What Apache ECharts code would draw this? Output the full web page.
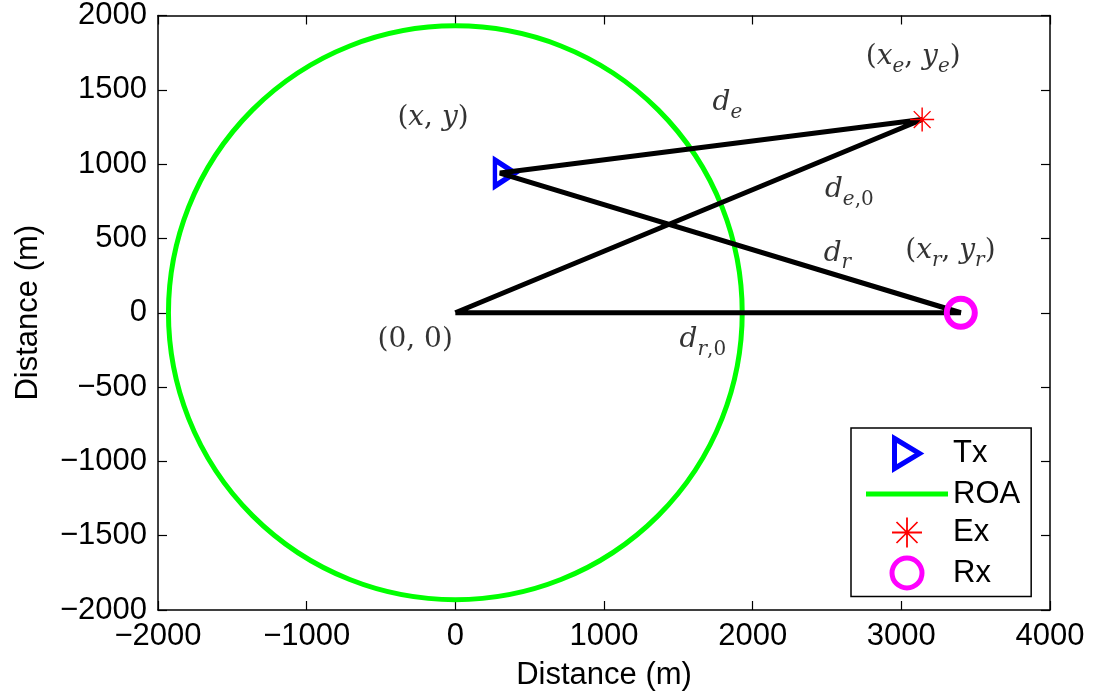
<!DOCTYPE html>
<html>
<head>
<meta charset="utf-8">
<script src="https://cdn.jsdelivr.net/npm/echarts@6/dist/echarts.min.js"></script>
<style>
  html, body { margin: 0; padding: 0; background: #fff; }
  #chart { width: 1093px; height: 700px; }
</style>
</head>
<body>
<div id="chart"></div>
<script>
// geometry (metres)
const originPoint = [0, 0];
const txPoint = [300, 940];
const exPoint = [3140, 1300];
const rxPoint = [3400, 0];
const roaRadius = 1930;
const pathOrder = [originPoint, exPoint, txPoint, rxPoint, originPoint];

// math annotations and where they sit (data coords)
const labelText = [
  '{n|(}{i|x}{n|, }{i|y}{n|)}',
  '{n|(}{i|x}{s|e}{n|, }{i|y}{s|e}{n|)}',
  '{i|d}{s|e}',
  '{i|d}{s|e}{s0|,0}',
  '{i|d}{s|r}',
  '{n|(}{i|x}{s|r}{n|, }{i|y}{s|r}{n|)}',
  '{n|(0, 0)}',
  '{i|d}{s|r}{s0|,0}'
];
const labelPos = [
  [-150, 1290], [3080, 1700], [1830, 1395], [2650, 810],
  [2570, 380], [3330, 400], [-270, -205], [1665, -205]
];

const legendNames = ['Tx', 'ROA', 'Ex', 'Rx'];

const triPath = 'path://M0,0L20,12L0,24Z';
const starPath = 'path://M47,0H53V100H47Z M0,47H100V53H0Z M17,13L87,83L83,87L13,17Z M83,13L87,17L17,87L13,83Z';

const sans = 'Liberation Sans, Arial, sans-serif';
const serif = 'DejaVu Serif, serif';
const minus = v => String(v).replace('-', '\u2212');

const myChart = echarts.init(document.getElementById('chart'));

const axisCommon = {
  type: 'value',
  axisLine: { show: true, onZero: false, lineStyle: { color: '#000', width: 1.5 } },
  axisTick: { show: true, inside: true, length: 9, lineStyle: { color: '#000', width: 1.2 } },
  splitLine: { show: false }
};

const option = {
  animation: false,
  grid: { left: 158, right: 43, top: 15, bottom: 90 },
  xAxis: [
    Object.assign({}, axisCommon, {
      min: -2000, max: 4000, interval: 1000, position: 'bottom',
      name: 'Distance (m)', nameLocation: 'middle', nameGap: 50,
      nameTextStyle: { fontFamily: sans, fontSize: 31, color: '#000' },
      axisLabel: { margin: 11, fontFamily: sans, fontSize: 31, color: '#000', formatter: minus }
    }),
    Object.assign({}, axisCommon, {
      min: -2000, max: 4000, interval: 1000, position: 'top', axisLabel: { show: false }
    })
  ],
  yAxis: [
    Object.assign({}, axisCommon, {
      min: -2000, max: 2000, interval: 500, position: 'left',
      name: 'Distance (m)', nameLocation: 'middle', nameGap: 114,
      nameTextStyle: { fontFamily: sans, fontSize: 31, color: '#000' },
      axisLabel: { margin: 11, fontFamily: sans, fontSize: 31, color: '#000', formatter: minus }
    }),
    Object.assign({}, axisCommon, {
      min: -2000, max: 2000, interval: 500, position: 'right', axisLabel: { show: false }
    })
  ],
  legend: {
    orient: 'vertical', left: 851, top: 428,
    padding: [8, 11, 6, 15], itemWidth: 82, itemHeight: 30, itemGap: 7.5,
    borderColor: '#000', borderWidth: 1.5, backgroundColor: '#fff',
    selectedMode: false,
    textStyle: { fontFamily: sans, fontSize: 31, color: '#000' },
    data: [
      { name: legendNames[0], icon: triPath,
        itemStyle: { color: '#fff', borderColor: '#0000ff', borderWidth: 5, opacity: 1 } },
      { name: legendNames[1], icon: 'path://M0,0H80V5H0Z', itemStyle: { opacity: 1 } },
      { name: legendNames[2], icon: starPath, itemStyle: { opacity: 1 } },
      { name: legendNames[3], icon: 'circle',
        itemStyle: { color: 'rgba(0,0,0,0)', borderColor: '#ff00ff', borderWidth: 5, opacity: 1 } }
    ]
  },
  series: [
    {
      name: 'ROA', type: 'custom', z: 1, silent: true,
      itemStyle: { color: '#00ff00' },
      data: [[originPoint[0], originPoint[1], roaRadius]],
      renderItem: function (params, api) {
        const c = api.coord([api.value(0), api.value(1)]);
        const s = api.size([api.value(2), api.value(2)]);
        return {
          type: 'circle',
          shape: { cx: c[0], cy: c[1], r: (s[0] + s[1]) / 2 },
          style: { fill: 'none', stroke: '#00ff00', lineWidth: 5 }
        };
      }
    },
    {
      name: 'Tx', type: 'scatter', z: 2, silent: true,
      symbol: triPath, symbolSize: [20, 26], symbolOffset: [5, 0],
      itemStyle: { color: '#fff', borderColor: '#0000ff', borderWidth: 5, opacity: 1 },
      data: [txPoint]
    },
    {
      name: 'links', type: 'line', z: 3, silent: true,
      symbol: 'none',
      lineStyle: { color: '#000', width: 5 },
      data: pathOrder
    },
    {
      name: 'Ex', type: 'scatter', z: 4, silent: true,
      symbol: starPath, symbolSize: 24,
      itemStyle: { color: '#ff0000', opacity: 1 },
      data: [exPoint]
    },
    {
      name: 'Rx', type: 'scatter', z: 4, silent: true,
      symbol: 'circle', symbolSize: 28,
      itemStyle: { color: 'rgba(0,0,0,0)', borderColor: '#ff00ff', borderWidth: 6, opacity: 1 },
      data: [rxPoint]
    },
    {
      name: 'notes', type: 'scatter', z: 5, silent: true,
      symbolSize: 0,
      data: labelPos.map((p, k) => ({
        value: p,
        label: { show: true, position: 'inside', formatter: labelText[k] }
      })),
      label: {
        color: '#000',
        rich: {
          n: { fontFamily: serif, fontSize: 28, lineHeight: 34, verticalAlign: 'top', color: '#000' },
          i: { fontFamily: serif, fontStyle: 'italic', fontSize: 28, lineHeight: 34, verticalAlign: 'top', color: '#000' },
          s: { fontFamily: serif, fontStyle: 'italic', fontSize: 20, lineHeight: 22, verticalAlign: 'bottom', color: '#000' },
          s0: { fontFamily: serif, fontSize: 20, lineHeight: 22, verticalAlign: 'bottom', color: '#000' }
        }
      }
    }
  ]
};
myChart.setOption(option);
</script>
</body>
</html>
